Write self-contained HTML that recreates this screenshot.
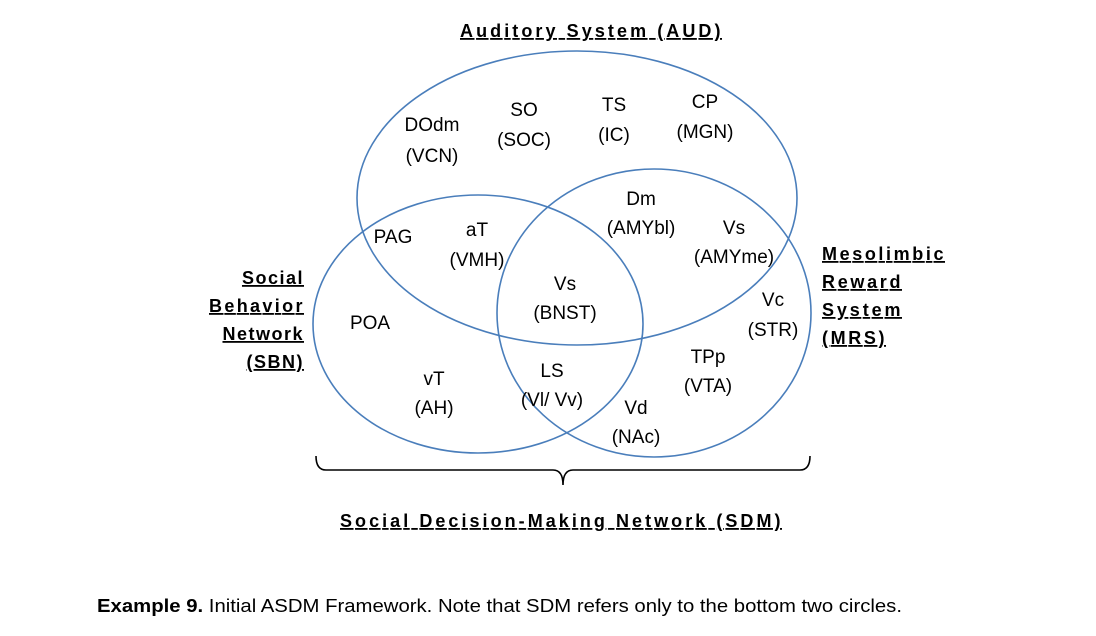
<!DOCTYPE html>
<html><head><meta charset="utf-8"><style>
html,body{margin:0;padding:0;background:#fff;}
svg{display:block;}
text{font-family:"Liberation Sans",Arial,sans-serif;fill:#000;}
.l{font-size:19px;text-anchor:middle;}
.t{font-size:18px;font-weight:bold;text-decoration:underline;letter-spacing:1.5px;}
</style></head><body>
<svg width="1096" height="636" viewBox="0 0 1096 636" xmlns="http://www.w3.org/2000/svg">
<g fill="none" stroke="#4a7ebb" stroke-width="1.6">
<ellipse cx="577" cy="198" rx="220" ry="147"/>
<ellipse cx="478" cy="324" rx="165" ry="129"/>
<ellipse cx="654" cy="313" rx="157" ry="144"/>
</g>
<path d="M316 456 Q316 470 326 470 L553 470 Q563 470 563 485 Q563 470 573 470 L800 470 Q810 470 810 456" fill="none" stroke="#000" stroke-width="1.6"/>
<text class="t" x="460" y="37" textLength="262" lengthAdjust="spacing">Auditory System (AUD)</text>
<text class="t" x="304" y="284" text-anchor="end">Social</text>
<text class="t" x="209" y="312" textLength="95" lengthAdjust="spacing">Behavior</text>
<text class="t" x="304" y="340" text-anchor="end">Network</text>
<text class="t" x="304" y="368" text-anchor="end">(SBN)</text>
<text class="t" x="822" y="260" textLength="123" lengthAdjust="spacing">Mesolimbic</text>
<text class="t" x="822" y="288" textLength="80" lengthAdjust="spacing">Reward</text>
<text class="t" x="822" y="316" textLength="80" lengthAdjust="spacing">System</text>
<text class="t" x="822" y="344" textLength="64" lengthAdjust="spacing">(MRS)</text>
<text class="t" x="340" y="527" textLength="442" lengthAdjust="spacing">Social Decision-Making Network (SDM)</text>
<g class="l">
<text class="l" x="432" y="131">DOdm</text><text class="l" x="432" y="162">(VCN)</text>
<text class="l" x="524" y="116">SO</text><text class="l" x="524" y="146">(SOC)</text>
<text class="l" x="614" y="111">TS</text><text class="l" x="614" y="141">(IC)</text>
<text class="l" x="705" y="108">CP</text><text class="l" x="705" y="138">(MGN)</text>
<text class="l" x="393" y="243">PAG</text>
<text class="l" x="477" y="236">aT</text><text class="l" x="477" y="266">(VMH)</text>
<text class="l" x="641" y="205">Dm</text><text class="l" x="641" y="234">(AMYbl)</text>
<text class="l" x="734" y="234">Vs</text><text class="l" x="734" y="263">(AMYme)</text>
<text class="l" x="565" y="290">Vs</text><text class="l" x="565" y="319">(BNST)</text>
<text class="l" x="370" y="329">POA</text>
<text class="l" x="773" y="306">Vc</text><text class="l" x="773" y="336">(STR)</text>
<text class="l" x="708" y="363">TPp</text><text class="l" x="708" y="392">(VTA)</text>
<text class="l" x="552" y="377">LS</text><text class="l" x="552" y="406">(Vl/ Vv)</text>
<text class="l" x="434" y="385">vT</text><text class="l" x="434" y="414">(AH)</text>
<text class="l" x="636" y="414">Vd</text><text class="l" x="636" y="443">(NAc)</text>
</g>
<text x="97" y="612" font-size="18" textLength="805" lengthAdjust="spacingAndGlyphs"><tspan font-weight="bold">Example 9.</tspan> Initial ASDM Framework. Note that SDM refers only to the bottom two circles.</text>
</svg>
</body></html>
